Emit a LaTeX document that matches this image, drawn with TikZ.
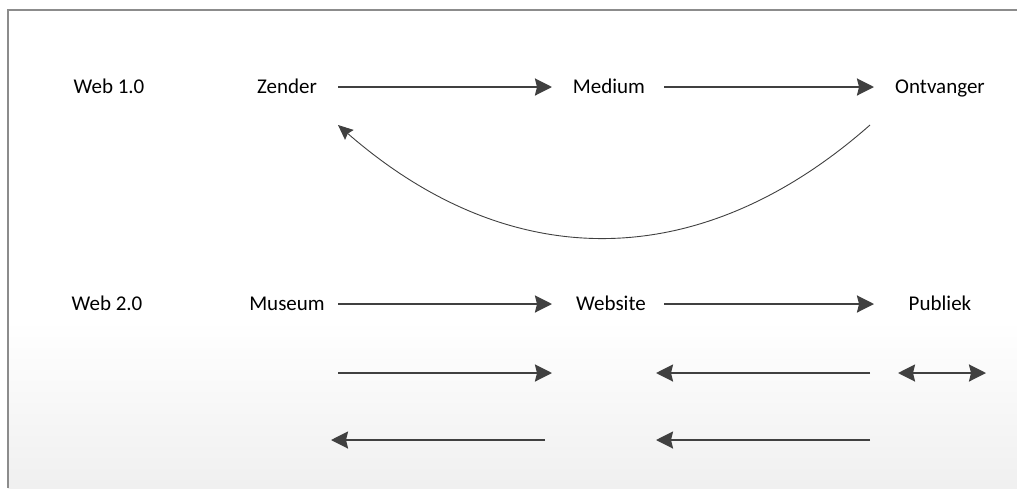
\documentclass[tikz,border=0pt]{standalone}
\usepackage{fontspec}
\setmainfont{Carlito}
\usetikzlibrary{arrows.meta}
\definecolor{framegray}{HTML}{8C8C8C}
\definecolor{arrowgray}{HTML}{404040}
\begin{document}
\begin{tikzpicture}[x=1pt,y=-1pt,
  lbl/.style={font=\fontsize{21}{25}\selectfont, text=black, inner sep=0pt, anchor=base},
  arr/.style={draw=arrowgray, line width=2.2pt, -{Stealth[length=17pt,width=17pt,inset=2pt]}},
  darr/.style={draw=arrowgray, line width=2.2pt, {Stealth[length=17pt,width=17pt,inset=2pt]}-{Stealth[length=17pt,width=17pt,inset=2pt]}},
  curvearr/.style={draw=arrowgray, line width=0.9pt, -{Stealth[length=15pt,width=13pt,inset=2pt]}}]
\useasboundingbox (0,0) rectangle (1017,488);
\fill[white] (0,0) rectangle (1017,320);
\shade[top color=white, bottom color=black!6] (8,320) rectangle (1017,488);
\draw[framegray, line width=1.6pt] (8,488) -- (8,10) -- (1017,10);
% labels
\node[lbl] (web1) at (109,93) {Web 1.0};
\node[lbl] (zender) at (287,93) {Zender};
\node[lbl] (medium) at (609,93) {Medium};
\node[lbl] (ontv) at (940,93) {Ontvanger};
\node[lbl] (web2) at (107,310) {Web 2.0};
\node[lbl] (museum) at (287,310) {Museum};
\node[lbl] (website) at (611,310) {Website};
\node[lbl] (publiek) at (940,310) {Publiek};
% arrow end points
\coordinate (a1s) at (338,87); \coordinate (a1e) at (552,87);
\coordinate (a2s) at (664,87); \coordinate (a2e) at (874,87);
\coordinate (b1s) at (338,304); \coordinate (b1e) at (552,304);
\coordinate (b2s) at (664,304); \coordinate (b2e) at (874,304);
\coordinate (c1s) at (338,373); \coordinate (c1e) at (552,373);
\coordinate (c2s) at (870,373); \coordinate (c2e) at (656,373);
\coordinate (c3s) at (898,373); \coordinate (c3e) at (986,373);
\coordinate (d1s) at (545,440); \coordinate (d1e) at (331,440);
\coordinate (d2s) at (870,440); \coordinate (d2e) at (656,440);
\coordinate (cs) at (870,125); \coordinate (ce) at (338,125);
\draw[arr] (a1s) -- (a1e);
\draw[arr] (a2s) -- (a2e);
\draw[arr] (b1s) -- (b1e);
\draw[arr] (b2s) -- (b2e);
\draw[arr] (c1s) -- (c1e);
\draw[arr] (c2s) -- (c2e);
\draw[darr] (c3s) -- (c3e);
\draw[arr] (d1s) -- (d1e);
\draw[arr] (d2s) -- (d2e);
\draw[curvearr] (cs) .. controls (700,275) and (510,275) .. (ce);
\end{tikzpicture}
\end{document}
